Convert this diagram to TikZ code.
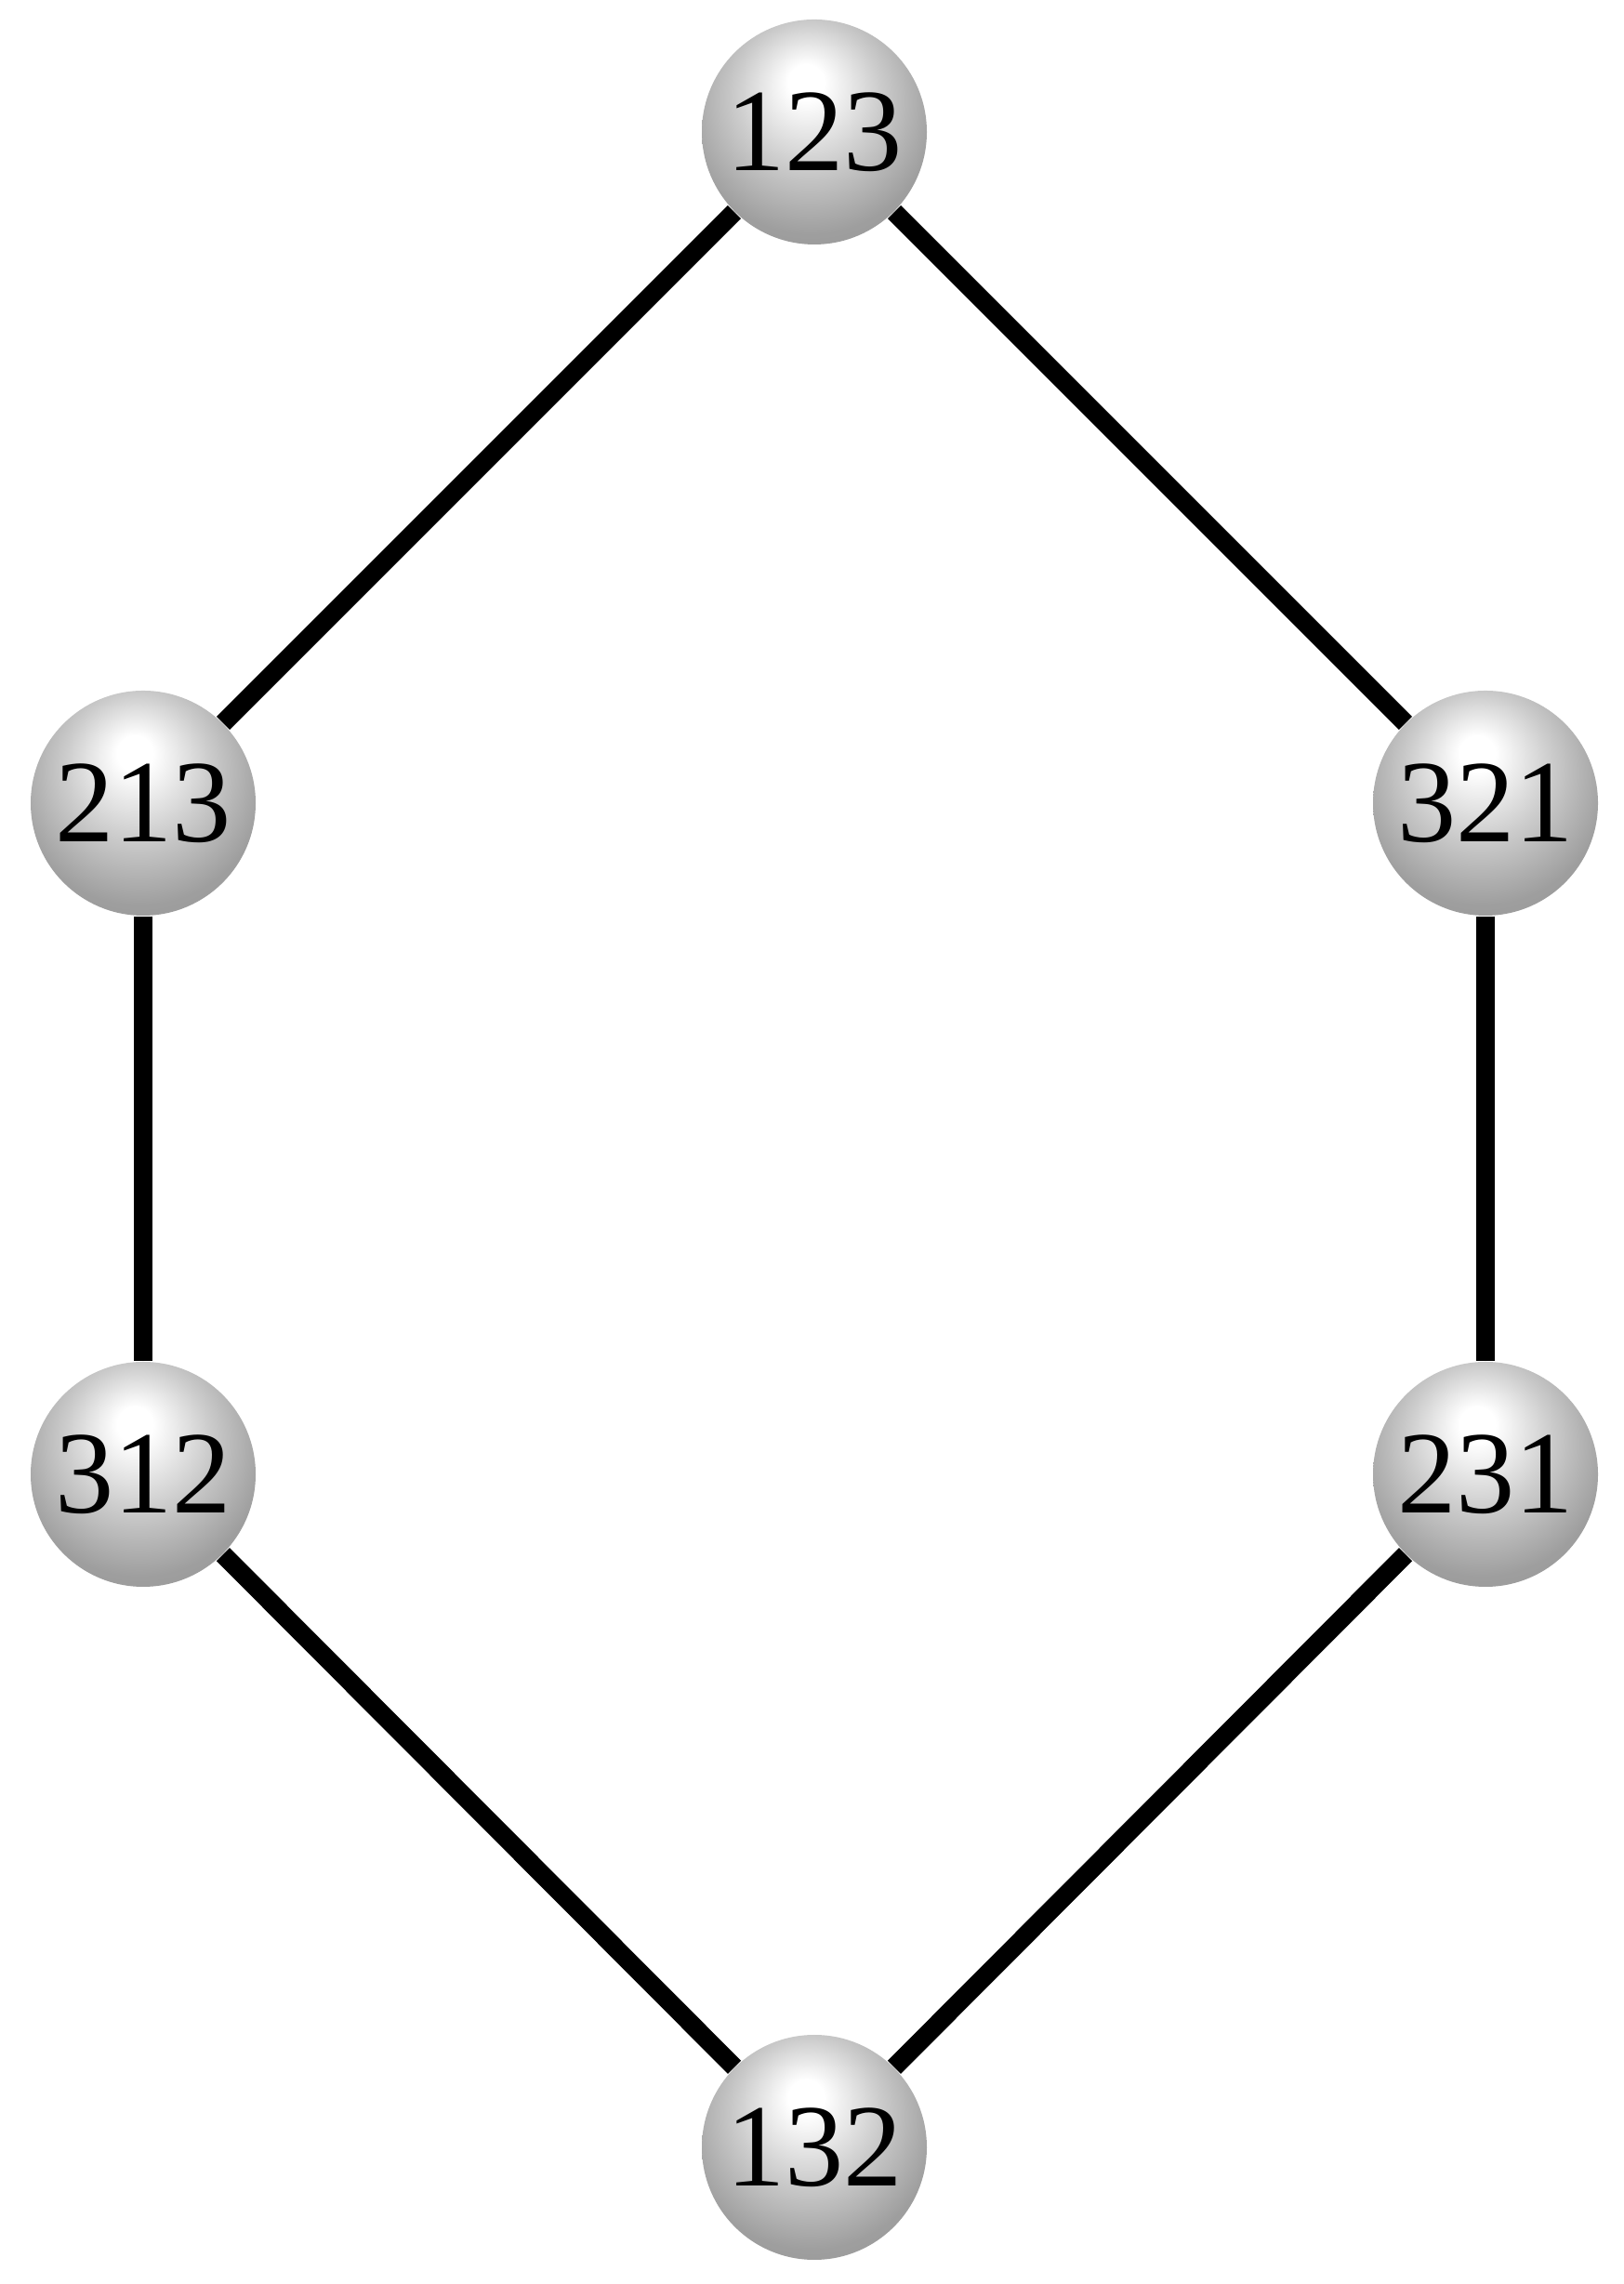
\documentclass[tikz,border=0pt]{standalone}
\usepackage{fontspec}
\setmainfont{Liberation Serif}
\usepackage{tikz}
\pgfdeclareradialshading{permball}{\pgfpoint{-2bp}{12bp}}{%
  color(0bp)=(white); color(4bp)=(white);
  color(16bp)=(black!20); color(28bp)=(black!38); color(50bp)=(black!45)}
\tikzset{
  perm/.style={circle, minimum size=2.42cm, inner sep=0pt, shading=permball, font=\fontsize{36}{36}\selectfont},
  edge/.style={line width=0.2cm}
}
\begin{document}
\begin{tikzpicture}
  \useasboundingbox (0,0) rectangle (17.46,24.57);
  \node[perm] (p123) at (8.76,23.15) {123};
  \node[perm] (p213) at (1.54,15.93) {213};
  \node[perm] (p321) at (15.98,15.93) {321};
  \node[perm] (p312) at (1.54,8.71) {312};
  \node[perm] (p231) at (15.98,8.71) {231};
  \node[perm] (p132) at (8.76,1.47) {132};
  \draw[edge] (p123) -- (p213);
  \draw[edge] (p123) -- (p321);
  \draw[edge] (p213) -- (p312);
  \draw[edge] (p321) -- (p231);
  \draw[edge] (p312) -- (p132);
  \draw[edge] (p231) -- (p132);
\end{tikzpicture}
\end{document}
